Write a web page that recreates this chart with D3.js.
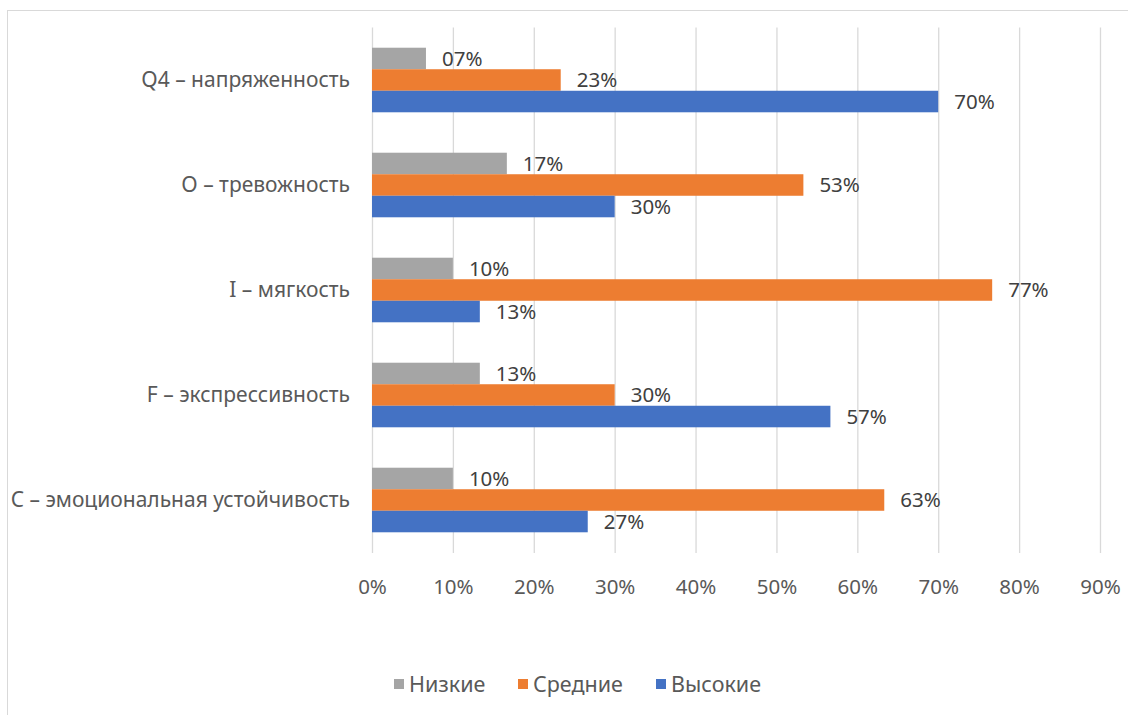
<!DOCTYPE html>
<html><head><meta charset="utf-8">
<script src="https://cdn.jsdelivr.net/npm/d3@7"></script>
<style>
html,body{margin:0;padding:0;background:#fff;}
svg{display:block;}
text{font-family:"Noto Sans","Open Sans",sans-serif;}
</style></head>
<body><svg id="c" width="1128" height="715"></svg>
<script>
const categories = ["Q4 – напряженность","O – тревожность","I – мягкость","F – экспрессивность","C – эмоциональная устойчивость"];
const seriesNames = ["Низкие","Средние","Высокие"];
const low  = [6.67, 16.67, 10, 13.33, 10];
const mid  = [23.33, 53.33, 76.67, 30, 63.33];
const high = [70, 30, 13.33, 56.67, 26.67];
const lowLabels  = ["07%","17%","10%","13%","10%"];
const midLabels  = ["23%","53%","77%","30%","63%"];
const highLabels = ["70%","30%","13%","57%","27%"];
const ticks = [0,10,20,30,40,50,60,70,80,90];
const colors = ["#A5A5A5","#ED7D31","#4472C4"];

const FS = 20.5;
const svg = d3.select("#c");
// frame
svg.append("rect").attr("x",7.5).attr("y",10.5).attr("width",1130).attr("height",720)
  .attr("fill","none").attr("stroke","#D9D9D9").attr("stroke-width",1);

const x = d3.scaleLinear().domain([0,90]).range([372,1100]);
const y = d3.scaleBand().domain(categories).range([27.5,552.5]).paddingInner(0.385).paddingOuter(0.1925);
const ySub = d3.scaleBand().domain(seriesNames).range([0,y.bandwidth()]);

// gridlines
svg.append("g").selectAll("line").data(ticks).join("line")
  .attr("x1",d=>x(d)+0.5).attr("x2",d=>x(d)+0.5).attr("y1",27.5).attr("y2",553)
  .attr("stroke","#D9D9D9").attr("stroke-width",1.3);

// x axis labels
const xAxis = d3.axisBottom(x).tickValues(ticks).tickFormat(d=>d+"%").tickSize(0).tickPadding(0);
const gx = svg.append("g").attr("transform","translate(0,575)").call(xAxis);
gx.select(".domain").remove();
gx.selectAll("text").attr("font-size",FS).attr("fill","#595959").attr("font-family","Noto Sans").attr("dy","0.35em").attr("y",12);

// y axis labels
const yAxis = d3.axisLeft(y).tickSize(0).tickPadding(0);
const gy = svg.append("g").attr("transform","translate(350,0)").call(yAxis);
gy.select(".domain").remove();
gy.selectAll("text").attr("font-size",21).attr("fill","#595959").attr("font-family","Noto Sans").attr("dy","0.35em");

const series = [
  {name:seriesNames[0], vals:low, labels:lowLabels, color:colors[0]},
  {name:seriesNames[1], vals:mid, labels:midLabels, color:colors[1]},
  {name:seriesNames[2], vals:high, labels:highLabels, color:colors[2]}
];
series.forEach(s=>{
  const g = svg.append("g");
  g.selectAll("rect").data(categories).join("rect")
    .attr("x",x(0)).attr("y",(c)=>y(c)+ySub(s.name))
    .attr("width",(c,i)=>x(s.vals[i])-x(0)).attr("height",ySub.bandwidth())
    .attr("fill",s.color);
  g.selectAll("text").data(categories).join("text")
    .attr("x",(c,i)=>x(s.vals[i])+16).attr("y",(c)=>y(c)+ySub(s.name)+ySub.bandwidth()/2)
    .attr("dy","0.35em").attr("font-size",FS).attr("fill","#404040")
    .text((c,i)=>s.labels[i]);
});

// legend
const legX = [394,518,656];
const leg = svg.append("g");
series.forEach((s,i)=>{
  leg.append("rect").attr("x",legX[i]).attr("y",679).attr("width",10).attr("height",10).attr("fill",s.color);
  leg.append("text").attr("x",legX[i]+15).attr("y",684).attr("dy","0.35em").attr("font-size",21.5)
    .attr("fill","#595959").text(s.name);
});
</script></body></html>
